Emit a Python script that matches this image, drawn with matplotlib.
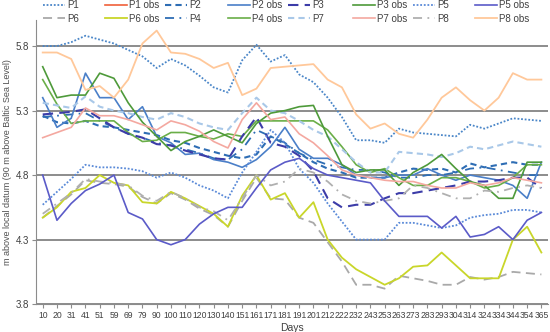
import matplotlib
matplotlib.use("Agg")
import matplotlib.pyplot as plt

days = [10, 20, 31, 41, 51, 59, 69, 79, 90, 100, 110, 120, 130, 140, 151, 161, 171, 181,
        191, 201, 212, 222, 232, 243, 253, 263, 273, 283, 293, 304, 314, 324, 334, 344, 354, 365]

p1 = [5.80, 5.80, 5.83, 5.88, 5.85, 5.82, 5.77, 5.72, 5.63, 5.70, 5.65, 5.57, 5.48, 5.44, 5.69, 5.81, 5.68, 5.73,
      5.58, 5.52, 5.40, 5.25, 5.07, 5.07, 5.05, 5.16, 5.13, 5.12, 5.11, 5.10, 5.19, 5.16, 5.20, 5.24, 5.23, 5.22]
p1_obs = []
p2 = [5.26, 5.21, 5.20, 5.22, 5.18, 5.17, 5.15, 5.13, 5.11, 5.07, 5.05, 5.01, 4.98, 4.95, 4.93, 4.96, 5.10, 5.04,
      4.97, 4.90, 4.85, 4.82, 4.78, 4.78, 4.78, 4.82, 4.85, 4.84, 4.85, 4.82, 4.89, 4.86, 4.88, 4.90, 4.88, 4.88]
p2_obs = [5.40, 5.17, 5.24, 5.59, 5.40, 5.40, 5.23, 5.33, 5.10, 5.05, 4.96, 4.97, 4.92, 4.90, 4.86, 4.92, 5.02, 5.17,
          5.00, 4.93, 4.93, 4.88, 4.80, 4.78, 4.78, 4.80, 4.80, 4.85, 4.80, 4.76, 4.80, 4.78, 4.76, 4.72, 4.62, 4.90]
p3 = [5.27, 5.28, 5.29, 5.31, 5.24, 5.17, 5.12, 5.09, 5.04, 5.03, 4.99, 4.96, 4.93, 4.92, 5.10, 5.25, 5.05, 5.02,
      4.95, 4.83, 4.62, 4.55, 4.57, 4.57, 4.62, 4.66, 4.66, 4.68, 4.70, 4.72, 4.75, 4.75, 4.76, 4.78, 4.78, 4.70]
p3_obs = [5.64, 5.40, 5.42, 5.42, 5.59, 5.55, 5.36, 5.21, 5.10, 4.99, 5.06, 5.10, 5.15, 5.10, 5.05, 5.20, 5.28, 5.30,
          5.33, 5.34, 5.10, 4.88, 4.82, 4.84, 4.84, 4.72, 4.82, 4.88, 4.96, 4.85, 4.75, 4.72, 4.62, 4.62, 4.90, 4.90]
p5 = [4.57, 4.67, 4.77, 4.88, 4.86, 4.86, 4.85, 4.83, 4.78, 4.82, 4.78, 4.72, 4.68, 4.62, 4.82, 4.98, 5.15, 5.05,
      4.85, 4.74, 4.58, 4.44, 4.30, 4.30, 4.30, 4.43, 4.43, 4.41, 4.39, 4.41, 4.47, 4.49, 4.50, 4.53, 4.53, 4.51]
p5_obs = [4.80, 4.45, 4.58, 4.68, 4.73, 4.80, 4.51, 4.46, 4.30, 4.26, 4.30, 4.42, 4.50, 4.55, 4.55, 4.70, 4.84, 4.90,
          4.93, 4.85, 4.80, 4.78, 4.76, 4.74, 4.60, 4.48, 4.48, 4.48, 4.39, 4.48, 4.32, 4.34, 4.40, 4.30, 4.45, 4.51]
p6 = [4.47, 4.56, 4.65, 4.76, 4.74, 4.73, 4.71, 4.63, 4.58, 4.66, 4.61, 4.54, 4.49, 4.40, 4.60, 4.78, 4.62, 4.61,
      4.47, 4.43, 4.28, 4.13, 3.95, 3.95, 3.92, 4.02, 4.00, 3.98, 3.95, 3.95, 4.01, 3.99, 4.01, 4.05, 4.04, 4.03]
p6_obs = [4.47, 4.55, 4.67, 4.70, 4.80, 4.74, 4.72, 4.59, 4.58, 4.67, 4.62, 4.56, 4.50, 4.40, 4.64, 4.80, 4.61, 4.66,
          4.47, 4.59, 4.30, 4.16, 4.07, 4.01, 3.95, 4.00, 4.09, 4.10, 4.20, 4.10, 4.00, 4.00, 4.00, 4.30, 4.40, 4.20]
p4 = [5.25, 5.26, 5.27, 5.28, 5.22, 5.17, 5.12, 5.09, 5.05, 5.03, 5.00, 4.97, 4.93, 4.92, 5.00, 5.15, 5.10, 5.05,
      4.97, 4.92, 4.88, 4.86, 4.84, 4.84, 4.82, 4.78, 4.78, 4.80, 4.80, 4.82, 4.85, 4.86, 4.84, 4.82, 4.80, 4.80]
p4_obs = [5.54, 5.35, 5.20, 5.22, 5.22, 5.22, 5.13, 5.06, 5.07, 5.13, 5.13, 5.10, 5.08, 5.12, 5.10, 5.22, 5.22, 5.22,
          5.22, 5.22, 5.15, 5.02, 4.88, 4.82, 4.85, 4.78, 4.72, 4.72, 4.78, 4.78, 4.75, 4.70, 4.72, 4.78, 4.88, 4.88]
p7 = [5.36, 5.34, 5.32, 5.41, 5.33, 5.30, 5.28, 5.25, 5.23, 5.28, 5.25, 5.20, 5.17, 5.15, 5.28, 5.40, 5.30, 5.28,
      5.22, 5.15, 5.10, 5.00, 4.90, 4.82, 4.82, 4.98, 4.97, 4.96, 4.94, 4.97, 5.02, 5.00, 5.03, 5.06, 5.04, 5.02]
p7_obs = [5.09, 5.13, 5.17, 5.32, 5.26, 5.26, 5.23, 5.19, 5.15, 5.22, 5.19, 5.14, 5.06, 5.01, 5.23, 5.36, 5.23, 5.25,
          5.12, 5.05, 4.95, 4.84, 4.80, 4.78, 4.76, 4.75, 4.75, 4.72, 4.70, 4.70, 4.74, 4.72, 4.74, 4.78, 4.76, 4.74]
p8 = [4.50, 4.58, 4.66, 4.77, 4.75, 4.74, 4.72, 4.64, 4.60, 4.67, 4.62, 4.55, 4.52, 4.45, 4.62, 4.80, 4.72, 4.75,
      4.85, 4.82, 4.75, 4.65, 4.60, 4.58, 4.60, 4.62, 4.72, 4.70, 4.66, 4.62, 4.62, 4.68, 4.67, 4.70, 4.72, 4.70]
p8_obs = [5.75, 5.75, 5.70, 5.46, 5.49, 5.40, 5.54, 5.82, 5.92, 5.75, 5.74, 5.70, 5.63, 5.67, 5.42, 5.47, 5.63, 5.64,
          5.65, 5.66, 5.54, 5.48, 5.27, 5.16, 5.20, 5.12, 5.09, 5.23, 5.40, 5.48, 5.38, 5.30, 5.40, 5.59, 5.54, 5.54]

y_ticks = [3.8, 4.3, 4.8, 5.3, 5.8]

# (label, values, colour, linestyle, linewidth) in legend order (column by column)
series = [
    ("P1", p1, "#4a86c8", (0, (1, 1)), 1.3),
    ("P6", p6, "#a9a9a9", (0, (5, 3)), 1.3),
    ("P1 obs", p1_obs, "#f0603a", "-", 1.2),
    ("P6 obs", p6_obs, "#c9d62a", "-", 1.3),
    ("P2", p2, "#2e6db4", (0, (3, 2)), 1.5),
    ("P4", p4, "#2e6db4", (0, (5, 3, 1, 3)), 1.3),
    ("P2 obs", p2_obs, "#4a7fc8", "-", 1.2),
    ("P4 obs", p4_obs, "#6aae48", "-", 1.2),
    ("P3", p3, "#3c3ca8", (0, (5, 3)), 1.5),
    ("P7", p7, "#a9c8e8", (0, (3, 2)), 1.5),
    ("P3 obs", p3_obs, "#4e9a3a", "-", 1.2),
    ("P7 obs", p7_obs, "#f4a8a0", "-", 1.2),
    ("P5", p5, "#5a8ad8", (0, (1, 1)), 1.3),
    ("P8", p8, "#b0b0b0", (0, (5, 3, 1, 3)), 1.3),
    ("P5 obs", p5_obs, "#5b5bc8", "-", 1.2),
    ("P8 obs", p8_obs, "#ffc89a", "-", 1.3),
]

plt.rcParams['font.family'] = ['Liberation Sans', 'DejaVu Sans']

fig = plt.figure(figsize=(5.5, 3.32), dpi=100)
ax = fig.add_axes([0.066, 0.084, 0.93, 0.855])

x = list(range(len(days)))
handles = []
for label, vals, color, ls, lw in series:
    xs = x[:len(vals)]
    h, = ax.plot(xs, vals, color=color, linestyle=ls, linewidth=lw, label=label)
    handles.append(h)

ax.set_xlim(-0.45, len(days) - 0.55)
ax.set_ylim(3.8, 6.0)
ax.set_yticks(y_ticks)
ax.set_yticklabels([f"{v:.1f}" for v in y_ticks], fontsize=7, color="#404040")
ax.set_xticks(x)
ax.set_xticklabels(days, fontsize=6.2, color="#404040",
                   family=['Liberation Sans Narrow', 'Liberation Sans', 'DejaVu Sans'])
ax.yaxis.grid(True, color="#8c8c8c", linewidth=1.4)
ax.set_axisbelow(True)
for s in ["top", "right"]:
    ax.spines[s].set_visible(False)
ax.spines["left"].set_color("#8c8c8c")
ax.spines["bottom"].set_color("#8c8c8c")
ax.tick_params(axis="x", length=3, color="#8c8c8c", pad=2)
ax.tick_params(axis="y", length=3, color="#8c8c8c", pad=2)

ax.set_xlabel("Days", fontsize=7.5, color="#404040", labelpad=2)
ax.set_ylabel("m above local datum (90 m above Baltic Sea Level)", fontsize=6.5,
              color="#505050", labelpad=3)

# Excel-style legend: equal-width columns, two entries per column
col_left_px = [43, 105, 165, 228, 288, 353, 413, 475]
for i, xpx in enumerate(col_left_px):
    leg = fig.legend(handles=handles[2 * i:2 * i + 2], loc="upper left",
                     bbox_to_anchor=(xpx / 550, 1.0), ncol=1, fontsize=7,
                     frameon=False, handlelength=2.2, handletextpad=0.25,
                     labelspacing=0.35, borderpad=0.05, borderaxespad=0)
    for t in leg.get_texts():
        t.set_color("#404040")

fig.savefig("out.png", dpi=100)
